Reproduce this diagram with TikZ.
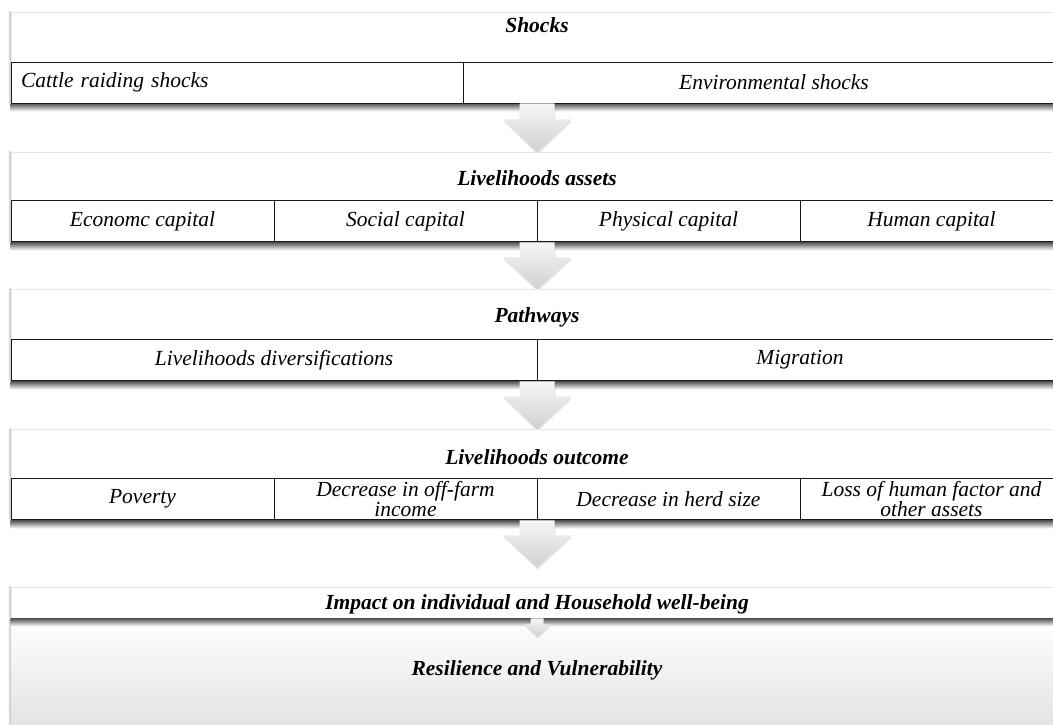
\documentclass[tikz,border=0pt]{standalone}
\usepackage{fontspec}
\setmainfont{Liberation Serif}
\usetikzlibrary{calc, shadows}
\definecolor{cline}{HTML}{1A1A1A}
\definecolor{cshade}{HTML}{555555}
\definecolor{cedge}{HTML}{E8E8E8}
\definecolor{clight}{HTML}{F6F6F6}
\definecolor{cdark}{HTML}{D0D0D0}
\definecolor{cbase}{HTML}{E2E2E2}
\tikzset{
  every picture/.style={x=1pt, y=-1pt},
  panel/.style={fill=white, draw=cedge, line width=0.8pt, minimum width=1052pt, inner sep=0pt},
  cell/.style={draw=cline, fill=white, line width=0.9pt, align=center, inner xsep=1pt, inner ysep=0pt,
    minimum height=41pt, font=\fontsize{21.5}{20.5}\selectfont\itshape},
  cellleft/.style={cell, align=left, text width=#1, inner xsep=10pt},
  heading/.style={font=\fontsize{21.5}{23}\selectfont\bfseries\itshape, inner sep=1pt},
  arrowfill/.style={top color=clight, bottom color=cdark, draw=none,
    drop shadow={opacity=0.22, shadow xshift=0.8pt, shadow yshift=-2pt}},
  undershade/.style={top color=cshade, bottom color=white, draw=none},
  sideshade/.style={left color=white, right color=black!25, draw=none},
}
\newcommand{\flowarrow}[5]{%
  \shade[arrowfill] ($(#1.south)+(-#2,0)$) -- ++(2*#2,0) -- ++(0,#4) -- ++(#3-#2,0)
    -- ++(-#3,#5) -- ++(-#3,-#5) -- ++(#3-#2,0) -- cycle;
}
\newcommand{\panelshade}[1]{%
  \shade[undershade] (#1.south west) rectangle ($(#1.south east)+(0,8)$);
  \shade[sideshade] ($(#1.north west)+(-3,0)$) rectangle (#1.south west);
}

\begin{document}
\begin{tikzpicture}
  \clip (0,0) rectangle (1053,724);
  \fill[white] (0,0) rectangle (1053,724);

  \node[panel, minimum height=91pt] (shocks) at (537,57.5) {};
  \panelshade{shocks}
  \node[heading] (shocksT) at (537,25) {Shocks};
  \node[cellleft=432pt, minimum width=452pt] (cattle) at (237,82.5) {Cattle raiding shocks};
  \node[cell, minimum width=600pt] (environ) at (763,82.5) {\hspace*{22pt}Environmental shocks};
  \flowarrow{shocks}{17.5}{34}{16}{33}

  \node[panel, minimum height=90pt] (assets) at (537,197) {};
  \panelshade{assets}
  \node[heading] (assetsT) at (537,178) {Livelihoods assets};
  \foreach \txt [count=\i] in {Economc capital, Social capital, Physical capital, Human capital}
    \node[cell, minimum width=263pt] (assets\i) at (142.5+263*\i-263,221) {\txt};
  \flowarrow{assets}{17.5}{34}{15}{32}

  \node[panel, minimum height=92pt] (path) at (537,335) {};
  \panelshade{path}
  \node[heading] (pathT) at (537,317) {Pathways};
  \node[cell, minimum width=526pt] (divers) at (274,360) {Livelihoods diversifications};
  \node[cell, minimum width=526pt] (migr) at (800,360) {Migration};
  \flowarrow{path}{17.5}{34}{15}{33}

  \node[panel, minimum height=91pt] (outcome) at (537,474.5) {};
  \panelshade{outcome}
  \node[heading] (outcomeT) at (537,457) {Livelihoods outcome};
  \foreach \txt [count=\i] in {Poverty, {Decrease in off-farm\\income}, Decrease in herd size, {Loss of human factor and\\other assets}}
    \node[cell, minimum width=263pt] (outcome\i) at (142.5+263*\i-263,499) {\txt};
  \flowarrow{outcome}{17.5}{34}{15}{32}

  \node[panel, shade, top color=white, middle color=white, bottom color=cbase, draw=none,
    minimum height=112pt] (resil) at (537,674) {};
  \shade[sideshade] ($(resil.north west)+(-3,0)$) rectangle (resil.south west);
  \node[heading] (resilT) at (537,670) {Resilience and Vulnerability};
  \node[panel, minimum height=31pt] (impact) at (537,602.5) {};
  \panelshade{impact}
  \node[heading] (impactT) at (537,604) {Impact on individual and Household well-being};
  \flowarrow{impact}{6.5}{12.5}{6}{12}
\end{tikzpicture}
\end{document}
